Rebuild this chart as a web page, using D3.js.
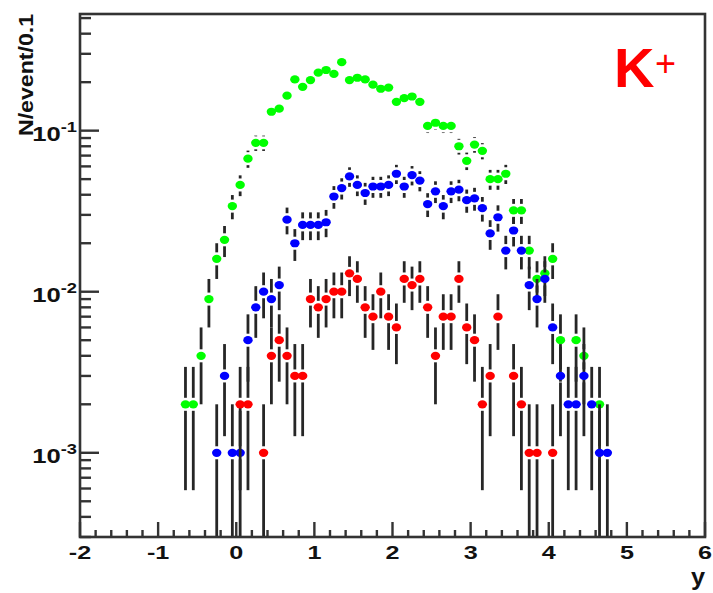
<!DOCTYPE html>
<html>
<head>
<meta charset="utf-8">
<script src="https://cdn.jsdelivr.net/npm/d3@7/dist/d3.min.js"></script>
<style>
  body { margin: 0; background: #fff; }
  text { font-family: "Liberation Sans", Arial, Helvetica, sans-serif; }
</style>
</head>
<body>
<div id="chart"></div>
<script>
// bin centres in rapidity (bin width 0.1)
const rapidity = [-0.65, -0.55, -0.45, -0.35, -0.25, -0.15, -0.05, 0.05, 0.15, 0.25,
  0.35, 0.45, 0.55, 0.65, 0.75, 0.85, 0.95, 1.05, 1.15, 1.25,
  1.35, 1.45, 1.55, 1.65, 1.75, 1.85, 1.95, 2.05, 2.15, 2.25,
  2.35, 2.45, 2.55, 2.65, 2.75, 2.85, 2.95, 3.05, 3.15, 3.25,
  3.35, 3.45, 3.55, 3.65, 3.75, 3.85, 3.95, 4.05, 4.15, 4.25,
  4.35, 4.45, 4.55, 4.65, 4.75];

// entries per bin (1 entry = 1e-3 per event)
const greenCounts = [2, 2, 4, 9, 16, 21, 34, 46, 67, 84,
  84, 131, 137, 165, 208, 187, 206, 229, 238, 225,
  266, 206, 213, 208, 193, 182, 185, 151, 159, 163,
  151, 107, 112, 107, 107, 80, 65, 82, 75, 50,
  50, 54, 32, 32, 18, 12, 13, 16, 5, 0,
  5, 4, 0, 2, 0];

const blueCounts = [0, 0, 0, 0, 1, 3, 1, 1, 5, 8,
  10, 9, 11, 28, 20, 26, 26, 26, 27, 39,
  44, 52, 46, 41, 45, 45, 46, 54, 45, 53,
  49, 35, 42, 34, 42, 43, 37, 38, 33, 23,
  29, 18, 24, 18, 11, 9, 12, 6, 3, 2,
  2, 3, 2, 1, 1];

const redCounts = [0, 0, 0, 0, 0, 0, 0, 2, 2, 0,
  1, 4, 5, 4, 3, 3, 9, 8, 9, 10,
  10, 13, 12, 8, 7, 10, 7, 6, 12, 11,
  12, 8, 4, 7, 7, 12, 6, 5, 2, 3,
  7, 0, 3, 2, 1, 1, 0, 1, 0, 0,
  0, 0, 0, 0, 0];

const perEntry = 1e-3;

const xTickValues = [-2, -1, 0, 1, 2, 3, 4, 5, 6];
const xTickLabels = ['-2', '-1', '0', '1', '2', '3', '4', '5', '6'];
const yTickValues = [1e-1, 1e-2, 1e-3];
const yTickExponents = ['-1', '-2', '-3'];

const w = 713;
const h = 593;
const frameL = 80, frameR = 705, frameT = 14, frameB = 537;

const xScale = d3.scaleLinear()
  .domain([-2, 6])
  .range([frameL, frameR]);

const yScale = d3.scaleLog()
  .domain([3e-4, 0.53])
  .range([frameB, frameT]);

const svg = d3.select('#chart')
  .append('svg')
  .attr('width', w)
  .attr('height', h);

svg.append('clipPath')
  .attr('id', 'frame-clip')
  .append('rect')
  .attr('x', frameL)
  .attr('y', frameT)
  .attr('width', frameR - frameL)
  .attr('height', frameB - frameT);

const plot = svg.append('g').attr('clip-path', 'url(#frame-clip)');

const series = [
  { name: 'green', counts: greenCounts, color: '#00ff00' },
  { name: 'blue', counts: blueCounts, color: '#0000ff' },
  { name: 'red', counts: redCounts, color: '#ff0000' }
];

const gap = 6.5;

series.forEach(s => {
  const pts = rapidity
    .map((x, i) => ({ x: x, n: s.counts[i] }))
    .filter(d => d.n > 0)
    .map(d => {
      const v = d.n * perEntry;
      const e = Math.sqrt(d.n) * perEntry;
      return { x: d.x, v: v, hi: v + e, lo: v - e };
    });

  const segs = [];
  pts.forEach(d => {
    const cx = xScale(d.x);
    const cy = yScale(d.v);
    const yHi = yScale(d.hi);
    const yLo = d.lo > 0 ? yScale(d.lo) : frameB + 10;
    if (cy - yHi > gap) segs.push({ x: cx, y1: yHi, y2: cy - gap });
    if (yLo - cy > gap) segs.push({ x: cx, y1: cy + gap, y2: yLo });
  });

  const g = plot.append('g').attr('class', 'series-' + s.name);

  g.selectAll('line')
    .data(segs)
    .enter()
    .append('line')
    .attr('x1', d => d.x)
    .attr('x2', d => d.x)
    .attr('y1', d => d.y1)
    .attr('y2', d => d.y2)
    .attr('stroke', '#262626')
    .attr('stroke-width', 2.8);

  g.selectAll('ellipse')
    .data(pts)
    .enter()
    .append('ellipse')
    .attr('cx', d => xScale(d.x))
    .attr('cy', d => yScale(d.v))
    .attr('rx', 4.7)
    .attr('ry', 4.1)
    .attr('fill', s.color);
});

// frame
svg.append('rect')
  .attr('x', frameL)
  .attr('y', frameT)
  .attr('width', frameR - frameL)
  .attr('height', frameB - frameT)
  .attr('fill', 'none')
  .attr('stroke', '#333')
  .attr('stroke-width', 2.6);

// x ticks (inside, every 0.2)
const xTicks = xScale.ticks(40);
svg.append('g')
  .selectAll('line')
  .data(xTicks)
  .enter()
  .append('line')
  .attr('x1', d => xScale(d))
  .attr('x2', d => xScale(d))
  .attr('y1', frameB)
  .attr('y2', d => Math.abs(d - Math.round(d)) < 1e-6 ? frameB - 15 : frameB - 7)
  .attr('stroke', '#333')
  .attr('stroke-width', 2.4);

// y ticks (inside, log minor ticks)
const yTicks = yScale.ticks();
svg.append('g')
  .selectAll('line')
  .data(yTicks)
  .enter()
  .append('line')
  .attr('x1', frameL)
  .attr('x2', d => {
    const l = Math.log10(d);
    return Math.abs(l - Math.round(l)) < 1e-6 ? frameL + 19 : frameL + 11;
  })
  .attr('y1', d => yScale(d))
  .attr('y2', d => yScale(d))
  .attr('stroke', '#333')
  .attr('stroke-width', 2.4);

// x tick labels
svg.append('g')
  .selectAll('text')
  .data(xTickValues)
  .enter()
  .append('text')
  .attr('transform', d => 'translate(' + xScale(d) + ',559) scale(1.4,1)')
  .attr('text-anchor', 'middle')
  .attr('font-size', 18)
  .attr('font-weight', 'bold')
  .attr('fill', '#111')
  .text((d, i) => xTickLabels[i]);

// y tick labels: 10^n
const yLab = svg.append('g')
  .selectAll('text')
  .data(yTickValues)
  .enter()
  .append('text')
  .attr('transform', d => 'translate(77,' + (yScale(d) + 10) + ') scale(1.22,1)')
  .attr('text-anchor', 'end')
  .attr('font-weight', 'bold')
  .attr('fill', '#111');

yLab.append('tspan')
  .attr('font-size', 21)
  .text('10');

yLab.append('tspan')
  .attr('font-size', 15)
  .attr('dy', -9)
  .text((d, i) => yTickExponents[i]);

// axis titles
svg.append('text')
  .attr('transform', 'translate(33,14) rotate(-90)')
  .attr('text-anchor', 'end')
  .attr('font-size', 21)
  .attr('font-weight', 'bold')
  .attr('fill', '#111')
  .attr('textLength', 122)
  .attr('lengthAdjust', 'spacingAndGlyphs')
  .text('N/event/0.1');

svg.append('text')
  .attr('transform', 'translate(705,585) scale(1.1,1)')
  .attr('text-anchor', 'end')
  .attr('font-size', 23)
  .attr('font-weight', 'bold')
  .attr('fill', '#111')
  .text('y');

// particle label
const kLabel = svg.append('text')
  .attr('x', 614)
  .attr('y', 87)
  .attr('fill', '#ff0000');

kLabel.append('tspan')
  .attr('font-size', 56)
  .attr('font-weight', 'bold')
  .text('K');

kLabel.append('tspan')
  .attr('x', 655)
  .attr('y', 76)
  .attr('font-size', 36)
  .text('+');
</script>
</body>
</html>
